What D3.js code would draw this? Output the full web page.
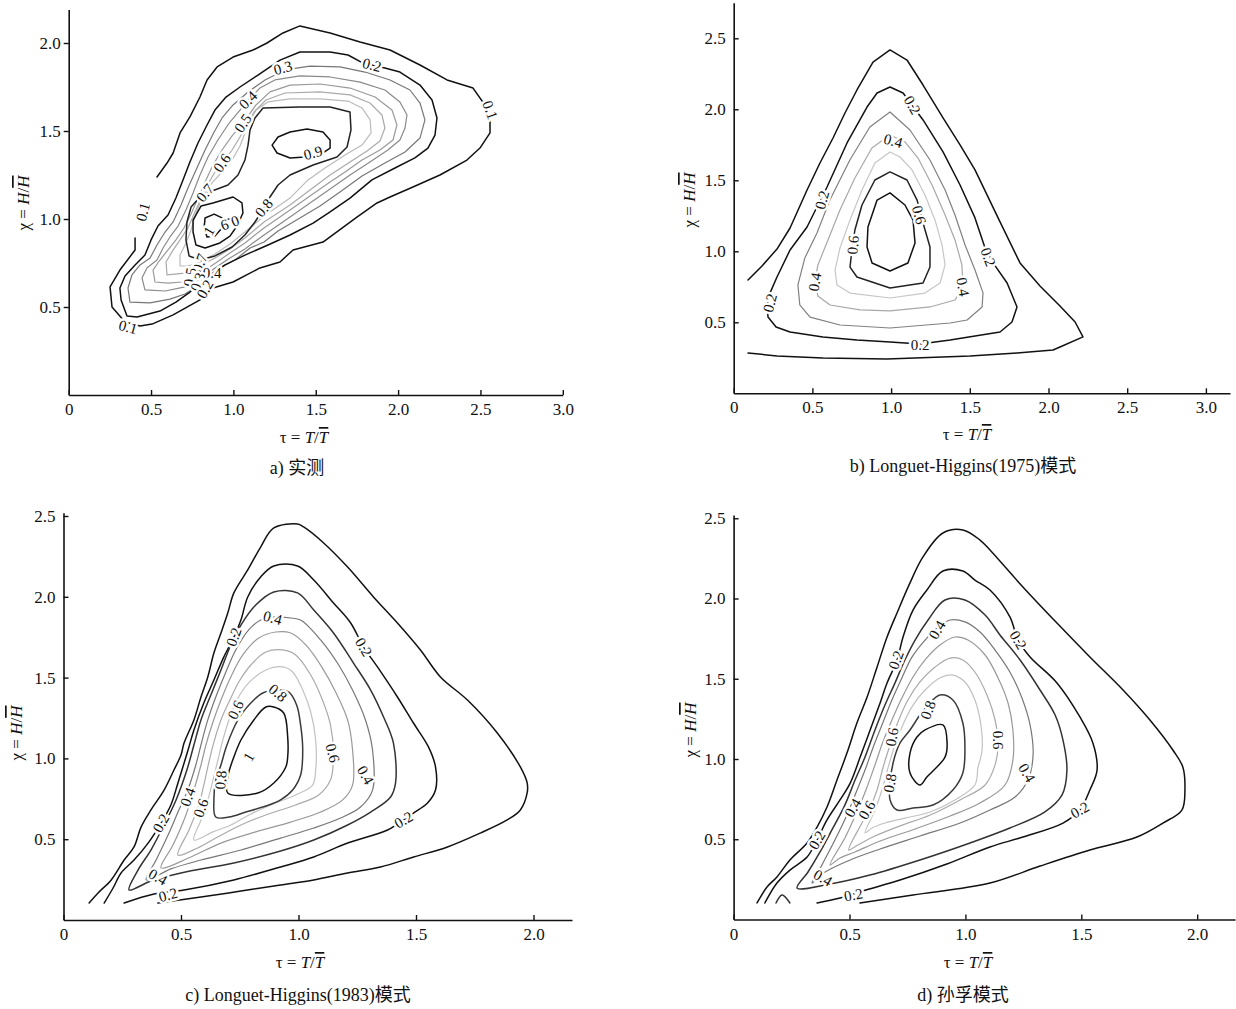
<!DOCTYPE html>
<html><head><meta charset="utf-8">
<script src="https://cdn.jsdelivr.net/npm/d3@7"></script>
<style>body{margin:0;background:#fff}</style>
</head><body>
<svg id="chart" width="1236" height="1009"></svg>
<script>
// ================= DATA =================
const xTicksAB = [0, 0.5, 1, 1.5, 2, 2.5, 3];
const yTicksA = [0.5, 1, 1.5, 2];
const yTicksB = [0.5, 1, 1.5, 2, 2.5];
const xTicksCD = [0, 0.5, 1, 1.5, 2];
const yTicksCD = [0.5, 1, 1.5, 2, 2.5];
const captions = ["a) 实测", "b) Longuet-Higgins(1975)模式", "c) Longuet-Higgins(1983)模式", "d) 孙孚模式"];

// ---- panel a (measured) contour lines, points [tau, chi] ----
const a01 = [[0.403,0.892],[0.403,0.824],[0.311,0.710],[0.251,0.614],[0.263,0.500],[0.342,0.415],[0.433,0.392],[0.506,0.403],[0.634,0.455],[0.797,0.540],[0.876,0.608],[0.998,0.642],[1.161,0.722],[1.283,0.756],[1.362,0.824],[1.544,0.869],[1.750,1.011],[1.872,1.091],[1.951,1.125],[2.090,1.182],[2.254,1.250],[2.418,1.335],[2.497,1.403],[2.558,1.489],[2.558,1.563],[2.527,1.648],[2.455,1.744],[2.297,1.790],[2.133,1.875],[1.951,1.960],[1.769,2.006],[1.587,2.057],[1.404,2.097],[1.301,2.057],[1.204,2.000],[1.119,1.960],[0.998,1.920],[0.901,1.864],[0.840,1.790],[0.797,1.693],[0.736,1.580],[0.676,1.489],[0.634,1.375],[0.597,1.318],[0.536,1.239]];
const a02 = [[0.354,0.449],[0.318,0.540],[0.311,0.608],[0.342,0.676],[0.403,0.739],[0.463,0.795],[0.500,0.881],[0.542,0.960],[0.603,1.023],[0.651,1.119],[0.694,1.222],[0.736,1.324],[0.785,1.432],[0.840,1.534],[0.888,1.619],[0.955,1.693],[1.040,1.750],[1.149,1.818],[1.283,1.903],[1.404,1.949],[1.587,1.949],[1.696,1.932],[1.787,1.886],[1.920,1.858],[2.011,1.835],[2.133,1.761],[2.206,1.676],[2.236,1.574],[2.224,1.477],[2.181,1.403],[2.102,1.347],[1.981,1.290],[1.841,1.222],[1.708,1.119],[1.587,1.040],[1.484,0.977],[1.344,0.909],[1.210,0.852],[1.070,0.795],[0.949,0.739],[0.858,0.682],[0.797,0.636],[0.736,0.585],[0.651,0.528],[0.554,0.477],[0.415,0.443]];
const a03 = [[0.372,0.528],[0.360,0.608],[0.384,0.682],[0.433,0.739],[0.494,0.778],[0.536,0.852],[0.585,0.926],[0.634,0.983],[0.682,1.080],[0.724,1.176],[0.773,1.278],[0.828,1.392],[0.883,1.494],[0.931,1.574],[0.998,1.648],[1.089,1.722],[1.192,1.790],[1.313,1.847],[1.465,1.869],[1.647,1.864],[1.799,1.835],[1.951,1.790],[2.072,1.733],[2.133,1.659],[2.163,1.563],[2.133,1.460],[2.042,1.381],[1.920,1.318],[1.781,1.244],[1.647,1.153],[1.526,1.074],[1.404,1.006],[1.271,0.932],[1.186,0.869],[1.101,0.835],[1.009,0.767],[0.918,0.722],[0.846,0.670],[0.785,0.619],[0.706,0.574],[0.615,0.545],[0.494,0.523]];
const a04 = [[0.463,0.597],[0.445,0.665],[0.475,0.722],[0.536,0.767],[0.573,0.835],[0.615,0.898],[0.664,0.960],[0.712,1.051],[0.755,1.148],[0.797,1.250],[0.846,1.352],[0.906,1.449],[0.979,1.551],[1.040,1.619],[1.089,1.676],[1.161,1.744],[1.252,1.790],[1.404,1.813],[1.587,1.807],[1.769,1.778],[1.920,1.733],[2.011,1.665],[2.054,1.591],[2.042,1.517],[2.011,1.449],[1.938,1.392],[1.829,1.324],[1.708,1.250],[1.587,1.170],[1.465,1.091],[1.344,1.011],[1.186,0.909],[1.070,0.830],[0.979,0.778],[0.906,0.733],[0.846,0.693],[0.785,0.653],[0.706,0.614],[0.585,0.591]];
const a05 = [[0.524,0.642],[0.512,0.710],[0.554,0.767],[0.603,0.824],[0.651,0.881],[0.700,0.949],[0.743,1.028],[0.785,1.119],[0.828,1.210],[0.876,1.307],[0.931,1.392],[0.992,1.472],[1.058,1.545],[1.137,1.648],[1.222,1.722],[1.344,1.761],[1.526,1.767],[1.708,1.744],[1.860,1.693],[1.963,1.619],[1.993,1.534],[1.969,1.449],[1.890,1.392],[1.781,1.335],[1.678,1.267],[1.587,1.210],[1.465,1.131],[1.344,1.051],[1.186,0.949],[1.070,0.864],[0.979,0.807],[0.901,0.756],[0.828,0.710],[0.767,0.676],[0.688,0.642],[0.603,0.636]];
const a06 = [[0.597,0.682],[0.591,0.756],[0.627,0.813],[0.676,0.881],[0.724,0.949],[0.761,1.028],[0.803,1.114],[0.846,1.199],[0.888,1.267],[0.931,1.318],[0.992,1.392],[1.040,1.466],[1.076,1.528],[1.125,1.608],[1.198,1.676],[1.313,1.716],[1.526,1.722],[1.708,1.705],[1.829,1.659],[1.902,1.591],[1.920,1.517],[1.890,1.443],[1.811,1.386],[1.708,1.324],[1.587,1.250],[1.465,1.165],[1.344,1.080],[1.186,0.983],[1.070,0.892],[0.979,0.830],[0.888,0.778],[0.797,0.733],[0.706,0.693]];
const a07 = [[0.676,0.733],[0.676,0.795],[0.712,0.864],[0.743,0.938],[0.767,1.017],[0.797,1.091],[0.828,1.148],[0.870,1.205],[0.931,1.267],[0.992,1.335],[1.040,1.415],[1.070,1.489],[1.095,1.551],[1.137,1.619],[1.210,1.665],[1.344,1.682],[1.526,1.682],[1.696,1.670],[1.781,1.631],[1.830,1.563],[1.836,1.489],[1.781,1.420],[1.678,1.364],[1.556,1.290],[1.453,1.222],[1.344,1.119],[1.186,1.017],[1.070,0.926],[0.979,0.858],[0.888,0.801],[0.797,0.756],[0.724,0.733]];
const a08 = [[1.180,1.631],[1.404,1.636],[1.587,1.636],[1.708,1.608],[1.714,1.506],[1.690,1.409],[1.629,1.352],[1.484,1.307],[1.344,1.250],[1.271,1.193],[1.222,1.125],[1.186,1.063],[1.131,0.983],[1.070,0.909],[0.992,0.841],[0.888,0.790],[0.797,0.767],[0.731,0.790],[0.712,0.881],[0.718,0.983],[0.743,1.068],[0.797,1.125],[0.870,1.159],[0.967,1.193],[1.028,1.250],[1.070,1.335],[1.089,1.420],[1.101,1.506],[1.131,1.574]];
const a09 = [[1.344,1.347],[1.265,1.375],[1.235,1.420],[1.271,1.466],[1.344,1.494],[1.447,1.511],[1.544,1.494],[1.587,1.449],[1.587,1.403],[1.526,1.364],[1.435,1.352]];
const a09s = [[0.779,1.034],[0.804,1.074],[0.876,1.091],[0.998,1.125],[1.052,1.091],[1.058,1.034],[1.022,0.960],[0.979,0.903],[0.918,0.864],[0.828,0.835],[0.773,0.852],[0.755,0.926],[0.755,0.994]];
const a10 = [[0.828,1.006],[0.883,1.028],[0.931,1.006],[0.931,0.949],[0.888,0.903],[0.840,0.898],[0.822,0.949]];

// ---- panel b (Longuet-Higgins 1975) ----
const b01 = [[0.091,0.798],[0.180,0.897],[0.275,1.016],[0.358,1.164],[0.466,1.432],[0.548,1.622],[0.631,1.798],[0.707,1.974],[0.783,2.136],[0.885,2.333],[0.993,2.418],[1.101,2.347],[1.203,2.171],[1.330,1.939],[1.438,1.749],[1.533,1.573],[1.692,1.207],[1.819,0.918],[1.946,0.756],[2.073,0.615],[2.169,0.502],[2.219,0.397],[2.073,0.326],[2.029,0.305],[1.800,0.284],[1.501,0.263],[0.974,0.242],[0.567,0.249],[0.275,0.263],[0.091,0.284]];
const b02 = [[0.218,0.537],[0.269,0.467],[0.358,0.432],[0.567,0.396],[0.783,0.375],[0.993,0.361],[1.184,0.347],[1.375,0.375],[1.692,0.432],[1.768,0.502],[1.800,0.608],[1.737,0.777],[1.648,0.918],[1.597,1.023],[1.533,1.235],[1.438,1.467],[1.330,1.700],[1.203,1.925],[1.076,2.115],[0.993,2.157],[0.911,2.115],[0.847,2.016],[0.720,1.763],[0.593,1.453],[0.529,1.312],[0.466,1.171],[0.358,1.009],[0.275,0.819],[0.231,0.707],[0.212,0.622]];
const b03 = [[0.993,1.981],[0.865,1.875],[0.738,1.643],[0.611,1.361],[0.529,1.129],[0.452,0.953],[0.408,0.763],[0.420,0.622],[0.485,0.537],[0.675,0.481],[0.993,0.460],[1.375,0.495],[1.483,0.516],[1.578,0.608],[1.584,0.707],[1.533,0.868],[1.470,1.044],[1.406,1.256],[1.343,1.432],[1.247,1.643],[1.120,1.854]];
const b04 = [[0.993,1.819],[0.878,1.727],[0.770,1.516],[0.675,1.291],[0.599,1.080],[0.535,0.904],[0.516,0.784],[0.535,0.685],[0.612,0.622],[0.802,0.587],[0.993,0.580],[1.247,0.608],[1.406,0.657],[1.456,0.749],[1.450,0.904],[1.406,1.080],[1.343,1.256],[1.260,1.467],[1.171,1.657],[1.088,1.770]];
const b05 = [[0.993,1.699],[0.897,1.622],[0.815,1.432],[0.739,1.221],[0.675,1.023],[0.644,0.868],[0.656,0.763],[0.739,0.706],[0.993,0.671],[1.215,0.706],[1.311,0.777],[1.343,0.904],[1.324,1.044],[1.279,1.221],[1.215,1.397],[1.133,1.573],[1.057,1.664]];
const b06 = [[0.993,1.559],[0.897,1.502],[0.815,1.326],[0.770,1.150],[0.751,1.009],[0.739,0.889],[0.783,0.819],[0.993,0.742],[1.203,0.777],[1.247,0.889],[1.247,1.030],[1.203,1.199],[1.165,1.361],[1.101,1.502]];
const b07 = [[0.993,1.411],[0.911,1.361],[0.853,1.171],[0.847,1.030],[0.879,0.918],[0.993,0.861],[1.107,0.918],[1.152,1.059],[1.139,1.221],[1.088,1.326]];

// ---- panel c (Longuet-Higgins 1983) ----
const c01 = [[0.109,0.105],[0.147,0.167],[0.203,0.248],[0.258,0.371],[0.300,0.452],[0.330,0.575],[0.372,0.681],[0.428,0.804],[0.470,0.928],[0.500,1.021],[0.513,1.095],[0.555,1.238],[0.585,1.380],[0.614,1.504],[0.640,1.652],[0.670,1.776],[0.699,1.900],[0.725,2.024],[0.784,2.166],[0.839,2.308],[0.895,2.426],[0.996,2.450],[1.022,2.432],[1.107,2.333],[1.209,2.184],[1.319,1.999],[1.421,1.838],[1.519,1.671],[1.604,1.504],[1.719,1.361],[1.846,1.157],[1.944,0.947],[1.973,0.848],[1.973,0.786],[1.944,0.681],[1.888,0.619],[1.774,0.538],[1.634,0.452],[1.490,0.390],[1.349,0.328],[1.209,0.291],[1.065,0.248],[0.924,0.217],[0.755,0.179],[0.585,0.142],[0.402,0.105]];
const c02 = [[0.173,0.105],[0.211,0.198],[0.245,0.291],[0.300,0.371],[0.360,0.476],[0.415,0.600],[0.457,0.712],[0.487,0.848],[0.530,1.052],[0.555,1.176],[0.597,1.343],[0.640,1.485],[0.682,1.627],[0.725,1.751],[0.755,1.856],[0.784,1.999],[0.839,2.123],[0.895,2.191],[0.996,2.191],[1.065,2.104],[1.149,1.962],[1.222,1.838],[1.277,1.689],[1.336,1.566],[1.421,1.380],[1.489,1.219],[1.553,1.071],[1.583,0.947],[1.583,0.804],[1.549,0.724],[1.489,0.662],[1.447,0.619],[1.379,0.557],[1.209,0.476],[1.065,0.390],[0.924,0.328],[0.725,0.248],[0.513,0.186],[0.385,0.161],[0.258,0.105]];
const c03 = [[0.279,0.186],[0.317,0.309],[0.372,0.433],[0.428,0.588],[0.479,0.743],[0.525,0.928],[0.555,1.083],[0.585,1.238],[0.627,1.392],[0.670,1.547],[0.712,1.702],[0.755,1.825],[0.818,1.949],[0.895,2.030],[0.996,2.024],[1.065,1.918],[1.149,1.776],[1.234,1.590],[1.307,1.423],[1.362,1.256],[1.404,1.095],[1.413,0.848],[1.392,0.761],[1.307,0.668],[1.209,0.588],[1.065,0.495],[0.924,0.427],[0.725,0.353],[0.500,0.291],[0.372,0.241]];
const c04 = [[0.352,0.248],[0.394,0.371],[0.445,0.526],[0.491,0.681],[0.529,0.804],[0.563,0.959],[0.585,1.083],[0.614,1.238],[0.648,1.380],[0.691,1.535],[0.733,1.671],[0.788,1.795],[0.839,1.856],[0.890,1.875],[0.967,1.869],[1.009,1.856],[1.094,1.733],[1.171,1.578],[1.230,1.423],[1.285,1.238],[1.315,1.052],[1.315,0.804],[1.264,0.699],[1.179,0.631],[1.065,0.569],[0.924,0.507],[0.755,0.433],[0.585,0.371],[0.457,0.316]];
const c05 = [[0.415,0.322],[0.466,0.464],[0.521,0.650],[0.555,0.804],[0.585,0.959],[0.606,1.083],[0.636,1.225],[0.670,1.361],[0.712,1.504],[0.763,1.640],[0.831,1.745],[0.903,1.782],[0.967,1.776],[1.031,1.702],[1.102,1.559],[1.158,1.411],[1.209,1.238],[1.230,1.052],[1.230,0.835],[1.188,0.743],[1.094,0.668],[0.967,0.606],[0.818,0.545],[0.670,0.476],[0.542,0.390]];
const c06 = [[0.487,0.402],[0.534,0.557],[0.576,0.712],[0.597,0.835],[0.619,0.978],[0.640,1.101],[0.670,1.238],[0.704,1.349],[0.746,1.473],[0.797,1.578],[0.861,1.658],[0.933,1.671],[0.988,1.640],[1.052,1.516],[1.102,1.361],[1.136,1.207],[1.149,1.021],[1.136,0.866],[1.086,0.774],[0.988,0.712],[0.861,0.650],[0.755,0.588],[0.648,0.507],[0.571,0.446]];
const c07 = [[0.555,0.495],[0.585,0.619],[0.614,0.743],[0.636,0.866],[0.657,0.990],[0.678,1.114],[0.704,1.238],[0.738,1.361],[0.788,1.467],[0.861,1.547],[0.933,1.566],[0.975,1.535],[1.018,1.423],[1.052,1.287],[1.073,1.114],[1.073,0.928],[1.060,0.835],[0.988,0.774],[0.882,0.712],[0.789,0.650],[0.712,0.588],[0.636,0.545]];
const c08 = [[0.648,0.637],[0.640,0.743],[0.648,0.866],[0.670,0.959],[0.691,1.064],[0.721,1.176],[0.755,1.269],[0.797,1.343],[0.848,1.405],[0.912,1.423],[0.958,1.411],[0.992,1.330],[1.009,1.207],[1.018,1.052],[1.009,0.897],[0.975,0.804],[0.924,0.743],[0.861,0.705],[0.776,0.668],[0.704,0.637]];
const c09 = [[0.699,0.786],[0.699,0.885],[0.725,1.009],[0.755,1.114],[0.810,1.238],[0.861,1.318],[0.895,1.318],[0.937,1.281],[0.954,1.132],[0.954,1.009],[0.946,0.947],[0.895,0.848],[0.827,0.786]];

// ---- panel d (Sun Fu model) ----
const d01 = [[0.101,0.103],[0.144,0.202],[0.187,0.265],[0.243,0.371],[0.317,0.477],[0.360,0.576],[0.403,0.701],[0.446,0.869],[0.489,1.037],[0.532,1.224],[0.576,1.386],[0.619,1.573],[0.662,1.760],[0.705,1.910],[0.761,2.097],[0.817,2.259],[0.903,2.408],[0.989,2.427],[1.063,2.364],[1.106,2.302],[1.248,2.072],[1.395,1.847],[1.537,1.636],[1.680,1.430],[1.796,1.243],[1.895,1.056],[1.938,0.950],[1.947,0.807],[1.934,0.682],[1.852,0.601],[1.740,0.514],[1.537,0.433],[1.322,0.333],[1.106,0.227],[0.774,0.153],[0.545,0.103]];
const d02 = [[0.135,0.103],[0.187,0.227],[0.243,0.308],[0.317,0.389],[0.360,0.495],[0.403,0.620],[0.459,0.745],[0.503,0.850],[0.546,1.012],[0.589,1.181],[0.632,1.349],[0.662,1.473],[0.705,1.617],[0.731,1.760],[0.774,1.928],[0.834,2.053],[0.903,2.171],[0.989,2.171],[1.041,2.115],[1.106,2.053],[1.192,1.885],[1.227,1.741],[1.279,1.636],[1.395,1.474],[1.494,1.262],[1.550,1.100],[1.568,0.931],[1.537,0.807],[1.494,0.682],[1.421,0.601],[1.248,0.514],[1.106,0.452],[0.920,0.346],[0.718,0.246],[0.571,0.184],[0.459,0.134],[0.360,0.103]];
const d03 = [[0.274,0.196],[0.321,0.296],[0.373,0.421],[0.424,0.558],[0.480,0.713],[0.524,0.869],[0.567,1.012],[0.610,1.181],[0.653,1.336],[0.696,1.473],[0.739,1.617],[0.783,1.741],[0.839,1.866],[0.912,1.991],[0.998,1.991],[1.085,1.897],[1.149,1.773],[1.236,1.617],[1.322,1.430],[1.387,1.274],[1.421,1.118],[1.438,0.931],[1.417,0.776],[1.343,0.670],[1.192,0.570],[1.020,0.477],[0.804,0.371],[0.588,0.277],[0.416,0.221]];
const d03b = [[0.183,0.103],[0.209,0.153],[0.243,0.103]];
const d04 = [[0.338,0.227],[0.381,0.340],[0.437,0.495],[0.489,0.651],[0.524,0.776],[0.567,0.931],[0.601,1.069],[0.640,1.212],[0.683,1.368],[0.726,1.505],[0.770,1.636],[0.826,1.741],[0.878,1.816],[0.934,1.866],[0.998,1.854],[1.063,1.791],[1.128,1.679],[1.192,1.542],[1.244,1.380],[1.279,1.212],[1.292,1.025],[1.270,0.869],[1.214,0.763],[1.106,0.682],[0.977,0.601],[0.804,0.520],[0.632,0.439],[0.503,0.371],[0.395,0.296]];
const d05 = [[0.416,0.340],[0.480,0.508],[0.532,0.670],[0.571,0.807],[0.610,0.963],[0.644,1.106],[0.683,1.243],[0.726,1.380],[0.774,1.511],[0.826,1.617],[0.890,1.710],[0.955,1.760],[1.011,1.741],[1.085,1.648],[1.141,1.505],[1.184,1.349],[1.205,1.181],[1.205,0.994],[1.171,0.838],[1.063,0.726],[0.934,0.645],[0.783,0.564],[0.632,0.489],[0.524,0.421],[0.459,0.383]];
const d06 = [[0.497,0.433],[0.549,0.589],[0.584,0.682],[0.619,0.807],[0.644,0.944],[0.675,1.087],[0.709,1.231],[0.752,1.368],[0.804,1.480],[0.869,1.573],[0.934,1.629],[0.989,1.617],[1.041,1.542],[1.093,1.399],[1.128,1.243],[1.141,1.087],[1.128,0.963],[1.085,0.838],[0.977,0.745],[0.848,0.651],[0.718,0.583],[0.610,0.520],[0.536,0.464]];
const d07 = [[0.567,0.539],[0.610,0.682],[0.640,0.807],[0.666,0.944],[0.696,1.087],[0.730,1.212],[0.774,1.336],[0.826,1.430],[0.890,1.505],[0.946,1.523],[0.998,1.480],[1.041,1.368],[1.067,1.212],[1.072,1.056],[1.054,0.944],[1.041,0.838],[0.955,0.745],[0.848,0.670],[0.740,0.632],[0.653,0.601],[0.597,0.570]];
const d08 = [[0.890,1.399],[0.946,1.368],[0.989,1.224],[0.998,1.056],[0.989,0.913],[0.946,0.807],[0.860,0.713],[0.774,0.695],[0.705,0.682],[0.675,0.745],[0.675,0.850],[0.688,0.975],[0.718,1.100],[0.761,1.181],[0.804,1.274],[0.839,1.336]];
const d09 = [[0.761,0.913],[0.761,1.037],[0.791,1.137],[0.826,1.181],[0.903,1.212],[0.921,1.100],[0.912,1.012],[0.834,0.888],[0.804,0.838]];

// ---- in-line contour labels: [text, tau, chi, angle] ----
const labelsA = [["0.1",0.451,1.040,-75],["0.1",0.360,0.386,15],["0.1",2.558,1.619,70],["0.3",1.301,1.858,-15],["0.2",1.841,1.875,15],["0.4",1.089,1.676,-45],["0.5",1.058,1.545,-55],["0.6",0.931,1.318,-55],["0.7",0.828,1.148,-50],["0.8",1.186,1.063,-50],["0.9",1.484,1.375,-15],["0.9",0.979,0.977,160],["1",0.852,0.932,-60],["0.7",0.797,0.750,-70],["0.5",0.736,0.670,-80],["0.4",0.871,0.693,0],["0.3",0.785,0.642,-70],["0.2",0.828,0.602,-60]];
const labelsB = [["0.2",0.562,1.362,-75],["0.2",0.231,0.636,-75],["0.2",1.184,0.340,0],["0.2",1.616,0.960,70],["0.2",1.134,2.030,60],["0.4",1.013,1.777,15],["0.4",0.516,0.784,-80],["0.4",1.456,0.749,80],["0.6",0.759,1.044,-85],["0.6",1.178,1.256,75]];
const labelsC = [["0.2",0.725,1.751,-70],["0.4",0.890,1.869,15],["0.2",1.277,1.689,60],["0.8",0.912,1.405,40],["0.6",0.733,1.300,-65],["0.2",0.415,0.600,-60],["0.4",0.529,0.761,-70],["0.6",0.585,0.693,-70],["0.8",0.670,0.866,-85],["0.6",1.145,1.033,75],["0.4",1.285,0.897,60],["0.2",1.447,0.619,-30],["0.4",0.402,0.266,30],["0.2",0.445,0.155,-15],["1",0.789,1.009,-60]];
const labelsD = [["0.2",0.701,1.617,-70],["0.4",0.878,1.804,-60],["0.2",1.227,1.741,60],["0.8",0.839,1.305,-70],["0.6",0.683,1.137,-80],["0.6",1.141,1.118,90],["0.8",0.675,0.850,-80],["0.4",0.515,0.695,-60],["0.6",0.575,0.682,-60],["0.2",0.360,0.495,-60],["0.4",1.265,0.913,60],["0.2",1.494,0.682,-30],["0.4",0.385,0.259,30],["0.2",0.517,0.153,-10]];

// ================= RENDERING =================
const SERIF = "'Liberation Serif','Times New Roman',serif";
const CJK = "'Liberation Serif','Noto Sans CJK SC',serif";
const svg = d3.select("#chart");
svg.append("rect").attr("width", 1236).attr("height", 1009).attr("fill", "#fff");

const colA = {0.1:"#111",0.2:"#111",0.3:"#777",0.4:"#8a8a8a",0.5:"#9a9a9a",0.6:"#aaa",0.7:"#bbb",0.8:"#222",0.9:"#111",1:"#111"};
const colB = {0.1:"#111",0.2:"#111",0.3:"#808080",0.4:"#a8a8a8",0.5:"#c6c6c6",0.6:"#222",0.7:"#111"};
const colCD = {0.1:"#111",0.2:"#111",0.3:"#333",0.4:"#777",0.5:"#999",0.6:"#aaa",0.7:"#c2c2c2",0.8:"#3a3a3a",0.9:"#111"};
const darkSet = new Set(["#111", "#222", "#333", "#3a3a3a"]);

const panels = [
  { x0:68.7, xu:164.7, xMax:3.0, y0:395, yu:176, yMax:2.19, yOut:true, xTicks:xTicksAB, yTicks:yTicksA,
    open:d3.curveLinear, closed:d3.curveLinearClosed, colors:colA, labels:labelsA,
    contours:[[0.7,1,a07],[0.6,1,a06],[0.5,1,a05],[0.4,1,a04],[0.3,1,a03],[0.2,1,a02],[0.1,0,a01],[0.8,1,a08],[0.9,1,a09],[0.9,1,a09s],[1,1,a10]],
    title:[304,443], cap:[297,474], ytitle:[23,203] },
  { x0:733.7, xu:157.4, xMax:3.153, y0:393.3, yu:142, yMax:2.75, yOut:false, xTicks:xTicksAB, yTicks:yTicksB,
    open:d3.curveLinear, closed:d3.curveLinearClosed, colors:colB, labels:labelsB,
    contours:[[0.5,1,b05],[0.4,1,b04],[0.3,1,b03],[0.2,1,b02],[0.1,0,b01],[0.6,1,b06],[0.7,1,b07]],
    title:[967,440], cap:[963,472], ytitle:[689,200] },
  { x0:63.5, xu:235, xMax:2.164, y0:920, yu:161.6, yMax:2.52, yOut:false, xTicks:xTicksCD, yTicks:yTicksCD,
    open:d3.curveCatmullRom, closed:d3.curveCatmullRomClosed, colors:colCD, labels:labelsC,
    contours:[[0.7,1,c07],[0.6,1,c06],[0.5,1,c05],[0.4,1,c04],[0.3,1,c03],[0.2,0,c02],[0.1,0,c01],[0.8,1,c08],[0.9,1,c09]],
    title:[300,968], cap:[298,1001], ytitle:[16,733] },
  { x0:733.6, xu:231.8, xMax:2.163, y0:919.5, yu:160.5, yMax:2.52, yOut:false, xTicks:xTicksCD, yTicks:yTicksCD,
    open:d3.curveCatmullRom, closed:d3.curveCatmullRomClosed, colors:colCD, labels:labelsD,
    contours:[[0.7,1,d07],[0.6,1,d06],[0.5,1,d05],[0.4,1,d04],[0.3,1,d03],[0.3,0,d03b],[0.2,0,d02],[0.1,0,d01],[0.8,1,d08],[0.9,1,d09]],
    title:[968,968], cap:[963,1001], ytitle:[690,730] }
];

panels.forEach((p, i) => {
  const x = d3.scaleLinear().domain([0, p.xMax]).range([p.x0, p.x0 + p.xu * p.xMax]);
  const y = d3.scaleLinear().domain([0, p.yMax]).range([p.y0, p.y0 - p.yu * p.yMax]);
  const g = svg.append("g");

  p.contours.forEach(([lev, isClosed, pts]) => {
    const line = d3.line().x(d => x(d[0])).y(d => y(d[1])).curve(isClosed ? p.closed : p.open);
    const c = p.colors[lev];
    g.append("path").attr("d", line(pts)).attr("fill", "none")
      .attr("stroke", c).attr("stroke-width", darkSet.has(c) ? 1.5 : 1.2)
      .attr("stroke-linejoin", "round").attr("stroke-linecap", "round");
  });

  p.labels.forEach(([t, tx, ty, ang]) => {
    g.append("text").text(t)
      .attr("transform", `translate(${x(tx)},${y(ty)}) rotate(${ang})`)
      .attr("text-anchor", "middle").attr("dominant-baseline", "central")
      .attr("font-family", SERIF).attr("font-size", 15).attr("fill", "#111")
      .attr("stroke", "#fff").attr("stroke-width", 5).attr("paint-order", "stroke")
      .attr("stroke-linejoin", "round");
  });

  const fmt = d => d === 0 ? "0" : d3.format(".1f")(d);
  const xAxis = d3.axisBottom(x).tickValues(p.xTicks).tickSize(-5).tickSizeOuter(0).tickPadding(8).tickFormat(fmt);
  const gx = g.append("g").attr("transform", `translate(0,${p.y0})`).call(xAxis);
  const yAxis = d3.axisLeft(y).tickValues(p.yTicks).tickSize(p.yOut ? 5 : -5).tickSizeOuter(0)
    .tickPadding(p.yOut ? 3 : 8).tickFormat(fmt);
  const gy = g.append("g").attr("transform", `translate(${p.x0},0)`).call(yAxis);
  [gx, gy].forEach(a => {
    a.select(".domain").attr("stroke", "#111").attr("stroke-width", 1.6);
    a.selectAll(".tick line").attr("stroke", "#111").attr("stroke-width", 1.4);
    a.selectAll(".tick text").attr("font-family", SERIF).attr("font-size", 17).attr("fill", "#111");
  });

  const xt = g.append("text").attr("x", p.title[0]).attr("y", p.title[1]).attr("text-anchor", "middle")
    .attr("font-family", SERIF).attr("font-size", 17).attr("fill", "#111");
  xt.append("tspan").text("τ = ");
  xt.append("tspan").attr("font-style", "italic").text("T");
  xt.append("tspan").text("/");
  xt.append("tspan").attr("font-style", "italic").style("text-decoration", "overline").text("T");

  const yt = g.append("text").attr("transform", `translate(${p.ytitle[0]},${p.ytitle[1]}) rotate(-90)`)
    .attr("text-anchor", "middle").attr("dominant-baseline", "central")
    .attr("font-family", SERIF).attr("font-size", 17).attr("fill", "#111");
  yt.append("tspan").text("χ = ");
  yt.append("tspan").attr("font-style", "italic").text("H");
  yt.append("tspan").text("/");
  yt.append("tspan").attr("font-style", "italic").style("text-decoration", "overline").text("H");

  g.append("text").attr("x", p.cap[0]).attr("y", p.cap[1]).attr("text-anchor", "middle")
    .attr("font-family", CJK).attr("font-size", 18).attr("fill", "#111").text(captions[i]);
});
</script>
</body></html>
